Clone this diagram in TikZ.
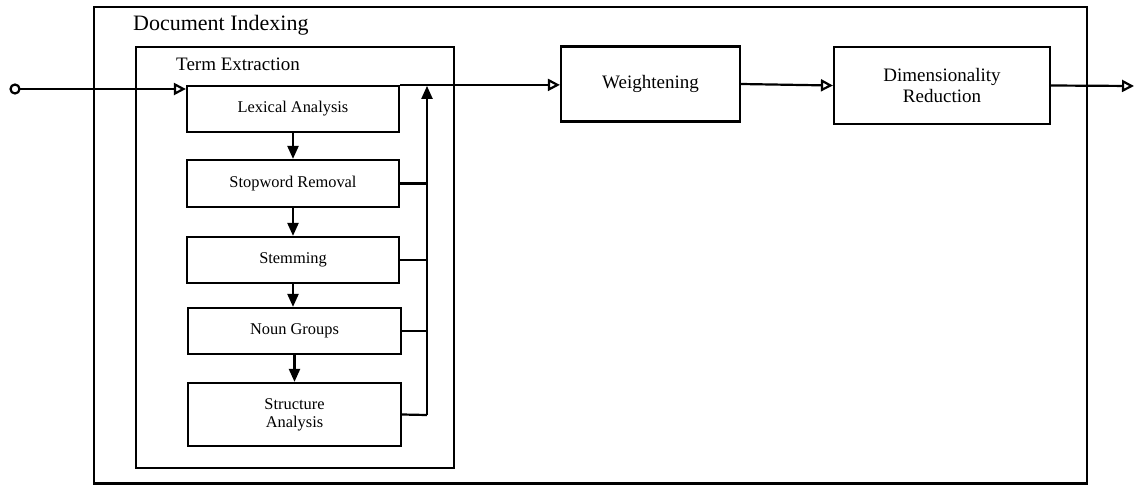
\documentclass[tikz,border=0pt]{standalone}
\usepackage{fontspec}
\setmainfont{Liberation Serif}
\usetikzlibrary{arrows.meta,calc}
\begin{document}
\begin{tikzpicture}[x=1pt,y=-1pt,
  lw/.style={line width=2.2pt},
  stepbox/.style={draw,lw,rectangle,minimum width=212pt,minimum height=46pt,inner sep=0pt,font=\fontsize{16.4}{18}\selectfont,align=center},
  bigbox/.style={draw,lw,rectangle,inner sep=0pt,font=\fontsize{19}{20}\selectfont,align=center},
  frame/.style={draw,lw},
  openarr/.style={lw,-{Triangle[open,length=12pt,width=12pt,line width=2.2pt]}},
  fillarr/.style={lw,-{Triangle[length=13pt,width=11pt]}},
  plain/.style={lw}]
\useasboundingbox (0,0) rectangle (1138,485);
% frames
\draw[frame] (94,7) rectangle (1087,483.5);
\node[anchor=base west,inner sep=0pt,font=\fontsize{22}{24}\selectfont] (ditxt) at (133,30) {Document Indexing};
\draw[frame] (136,47) rectangle (454,468);
\node[anchor=base west,inner sep=0pt,font=\fontsize{19}{20}\selectfont] (tetxt) at (176,70) {Term Extraction};
% step boxes
\node[stepbox] (lex) at (293,109) {Lexical Analysis};
\node[stepbox,minimum height=47pt] (stop) at (293,183.5) {Stopword Removal};
\node[stepbox] (stem) at (293,260) {Stemming};
\node[stepbox,minimum width=213pt] (noun) at (294.5,331) {Noun Groups};
\node[stepbox,minimum width=213pt,minimum height=63pt] (struct) at (294.5,414.5) {Structure\\Analysis};
% main boxes
\node[bigbox,minimum width=179pt,minimum height=75pt] (weight) at (650.5,84) {Weightening};
\node[bigbox,minimum width=216pt,minimum height=77pt,font=\fontsize{19}{20.5}\selectfont] (dim) at (942,85.5) {Dimensionality\\Reduction};
% input / output
\coordinate (in) at (15,89);
\coordinate (out) at (1134,86);
\coordinate (fb) at (427,415);
\draw[openarr] ($(in)+(5,0)$) -- (lex.north west |- in);
\draw[lw,fill=white] (in) circle (4.5pt);
\draw[openarr] (lex.north east) -- (lex.north east -| weight.west);
\draw[openarr] (weight.east) -- (dim.west);
\draw[openarr] (dim.east) -- (out);
% vertical chain
\draw[fillarr] (lex) -- (stop);
\draw[fillarr] (stop) -- (stem);
\draw[fillarr] (stem.south) -- (stem.south |- noun.north);
\draw[fillarr] (noun) -- (struct);
% feedback
\draw[plain] (struct.east) -- (fb);
\draw[plain] (stop.east) -- (stop.east -| fb);
\draw[plain] (stem.east) -- (stem.east -| fb);
\draw[plain] (noun.east) -- (noun.east -| fb);
\draw[fillarr] (fb) -- ($(fb |- lex.north)+(0,1)$);
\end{tikzpicture}
\end{document}
